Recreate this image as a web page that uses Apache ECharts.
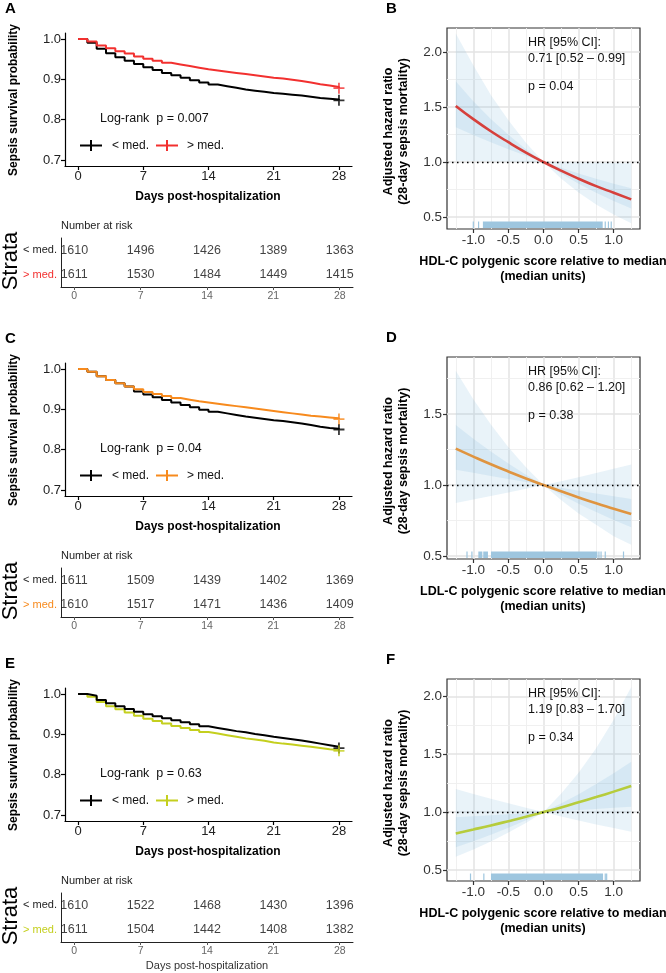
<!DOCTYPE html>
<html><head><meta charset="utf-8">
<script src="https://cdn.jsdelivr.net/npm/echarts@6/dist/echarts.min.js"></script>
<style>html,body{margin:0;padding:0;background:#fff}#c{width:666px;height:973px}</style>
</head><body><div id="c"></div>
<script>
// ---------------- DATA ----------------
const days = [0,1,2,3,4,5,6,7,8,9,10,11,12,13,14,15,16,17,18,19,20,21,22,23,24,25,26,27,28];
const dayTicks = [0,7,14,21,28];
const survTicks = [0.7,0.8,0.9,1.0];
const strata = ['> med.','< med.'];

const kmA_low  = [1,0.991,0.976,0.965,0.955,0.946,0.938,0.930,0.923,0.916,0.910,0.904,0.898,0.892,0.887,0.883,0.879,0.875,0.872,0.869,0.866,0.864,0.862,0.860,0.857,0.854,0.852,0.850,0.848];
const kmA_high = [1,0.994,0.984,0.977,0.970,0.964,0.957,0.951,0.946,0.941,0.937,0.933,0.929,0.925,0.922,0.919,0.916,0.913,0.910,0.907,0.904,0.902,0.899,0.896,0.892,0.888,0.885,0.881,0.878];
const kmC_low  = [1,0.993,0.982,0.973,0.965,0.957,0.944,0.937,0.930,0.923,0.917,0.911,0.905,0.899,0.894,0.890,0.886,0.882,0.879,0.876,0.873,0.871,0.868,0.865,0.861,0.857,0.854,0.852,0.850];
const kmC_high = [1,0.993,0.982,0.973,0.965,0.957,0.950,0.943,0.938,0.933,0.928,0.924,0.920,0.917,0.914,0.911,0.908,0.905,0.902,0.899,0.896,0.893,0.890,0.887,0.884,0.882,0.880,0.878,0.876];
const kmE_low  = [1,0.996,0.985,0.977,0.970,0.963,0.956,0.950,0.945,0.940,0.935,0.930,0.925,0.920,0.916,0.912,0.908,0.905,0.901,0.898,0.894,0.891,0.888,0.885,0.881,0.877,0.873,0.869,0.866];
const kmE_high = [1,0.993,0.980,0.970,0.962,0.954,0.946,0.939,0.933,0.927,0.921,0.916,0.911,0.906,0.902,0.898,0.894,0.890,0.887,0.884,0.880,0.877,0.875,0.872,0.869,0.866,0.863,0.861,0.859];

const riskA_low  = [1610,1496,1426,1389,1363];
const riskA_high = [1611,1530,1484,1449,1415];
const riskC_low  = [1611,1509,1439,1402,1369];
const riskC_high = [1610,1517,1471,1436,1409];
const riskE_low  = [1610,1522,1468,1430,1396];
const riskE_high = [1611,1504,1442,1408,1382];

const scoreX = [-1.25,-1.0,-0.75,-0.5,-0.25,0,0.25,0.5,0.75,1.0,1.25];
const scoreTicks = [-1.0,-0.5,0.0,0.5,1.0];
const scoreMinor = [-1.25,-0.75,-0.25,0.25,0.75,1.25];

const hrB   = [1.51,1.39,1.28,1.18,1.086,1.0,0.921,0.848,0.78,0.72,0.66];
const hiB95 = [2.17,1.88,1.61,1.38,1.175,1.0,0.998,0.996,0.993,0.991,0.989];
const loB95 = [1.011,1.009,1.007,1.005,1.002,1.0,0.85,0.722,0.614,0.521,0.443];
const hiB50 = [1.735,1.553,1.392,1.247,1.117,1.0,0.947,0.896,0.848,0.803,0.760];
const loB50 = [1.316,1.245,1.179,1.116,1.056,1.0,0.896,0.802,0.719,0.644,0.577];
const rugB  = [[-1.0,-1.0],[-0.925,-0.925],[-0.855,0.835],[0.88,0.88],[0.925,0.925],[0.965,0.965]];

const hrD   = [1.256,1.20,1.146,1.095,1.046,1.0,0.956,0.913,0.872,0.834,0.796];
const hiD95 = [1.803,1.603,1.425,1.266,1.125,1.0,1.027,1.055,1.084,1.114,1.145];
const loD95 = [0.874,0.898,0.922,0.947,0.973,1.0,0.895,0.80,0.72,0.64,0.58];
const hiD50 = [1.422,1.325,1.235,1.151,1.073,1.0,0.98,0.96,0.94,0.921,0.902];
const loD50 = [1.108,1.086,1.064,1.042,1.021,1.0,0.932,0.869,0.81,0.754,0.703];
const rugD  = [[-1.09,-1.09],[-1.02,-1.02],[-0.92,-0.88],[-0.85,-0.80],[-0.74,0.76],[0.79,0.79],[0.82,0.82],[0.88,0.88],[1.14,1.14]];

const hrF   = [0.816,0.85,0.885,0.922,0.96,1.0,1.041,1.085,1.13,1.177,1.226];
const hiF95 = [1.20,1.157,1.116,1.076,1.037,1.0,1.158,1.341,1.552,1.797,2.08];
const loF95 = [0.615,0.678,0.747,0.823,0.907,1.0,0.963,0.928,0.894,0.862,0.83];
const hiF50 = [0.955,0.964,0.973,0.982,0.991,1.0,1.075,1.155,1.242,1.335,1.435];
const loF50 = [0.697,0.749,0.805,0.866,0.930,1.0,1.009,1.019,1.028,1.038,1.047];
const rugF  = [[-1.04,-1.04],[-0.85,-0.85],[-0.74,0.84],[0.88,0.88],[0.90,0.90]];

// ---------------- BUILD ----------------
const FF = '"Liberation Sans", Arial, Helvetica, sans-serif';
const PLUS = 'path://M4.2,0h1.6v10h-1.6z M0,4.2h10v1.6h-10z';
const BAND = 'rgba(107,174,214,0.15)';
const RUG = '#9ec6df';
const grids = [], xAxes = [], yAxes = [], series = [], graphics = [];

function txt(x, y, text, font, color, align, rot) {
  const el = {type:'text', x:x, y:y, silent:true, z:100,
    style:{text:text, font:font, fill:color||'#000', textAlign:align||'left', textVerticalAlign:'middle'}};
  if (rot) el.rotation = rot;
  graphics.push(el);
}
function seg(x1, y1, x2, y2, color, w) {
  graphics.push({type:'line', silent:true, z:100, shape:{x1:x1,y1:y1,x2:x2,y2:y2}, style:{stroke:color, lineWidth:w}});
}

function kmPanel(off, low, high, col, pText, rLow, rHigh, letter, blackOnTop, bottomTitle) {
  const gi = grids.length;
  grids.push({left:65, top:33+off, width:287, height:133});
  xAxes.push({type:'value', gridIndex:gi, min:-1.4, max:29.4,
    axisLine:{show:true, onZero:false, lineStyle:{color:'#000', width:1.2}},
    axisTick:{show:true, customValues:dayTicks, length:4, lineStyle:{color:'#000', width:1.2}},
    axisLabel:{show:true, customValues:dayTicks, fontSize:13, color:'#222', margin:4, fontFamily:FF},
    splitLine:{show:false}});
  yAxes.push({type:'value', gridIndex:gi, min:0.685, max:1.015,
    axisLine:{show:true, onZero:false, lineStyle:{color:'#000', width:1.2}},
    axisTick:{show:true, customValues:survTicks, length:4, lineStyle:{color:'#000', width:1.2}},
    axisLabel:{show:true, customValues:survTicks, fontSize:13, color:'#222', margin:4, fontFamily:FF, formatter:v=>v.toFixed(1)},
    splitLine:{show:false}});
  const sLow = {type:'line', xAxisIndex:gi, yAxisIndex:gi, step:'end', symbol:'none', animation:false,
    data:days.map((d,i)=>[d, low[i]]), lineStyle:{color:'#000', width:2}, itemStyle:{color:'#000'}, z: blackOnTop?4:3};
  const sHigh = {type:'line', xAxisIndex:gi, yAxisIndex:gi, step:'end', symbol:'none', animation:false,
    data:days.map((d,i)=>[d, high[i]]), lineStyle:{color:col, width:2}, itemStyle:{color:col}, z: blackOnTop?3:4};
  series.push(sLow, sHigh);
  const n = days.length-1;
  series.push({type:'scatter', xAxisIndex:gi, yAxisIndex:gi, symbol:PLUS, symbolSize:11, animation:false,
    data:[[days[n], low[n]]], itemStyle:{color:'#000'}, z:5});
  series.push({type:'scatter', xAxisIndex:gi, yAxisIndex:gi, symbol:PLUS, symbolSize:11, animation:false,
    data:[[days[n], high[n]]], itemStyle:{color:col}, z:5});

  // risk table
  const ri = grids.length;
  grids.push({left:61, top:238+off, width:292, height:49});
  xAxes.push({type:'value', gridIndex:ri, min:-1.4, max:29.4,
    axisLine:{show:true, onZero:false, lineStyle:{color:'#222', width:1}},
    axisTick:{show:true, customValues:dayTicks, length:3, lineStyle:{color:'#555', width:1}},
    axisLabel:{show:true, customValues:dayTicks, fontSize:10.5, color:'#666', margin:4, fontFamily:FF},
    splitLine:{show:false}});
  yAxes.push({type:'category', gridIndex:ri, data:strata,
    axisLine:{show:true, onZero:false, lineStyle:{color:'#222', width:1}},
    axisTick:{show:false},
    axisLabel:{fontSize:11, margin:4, fontFamily:FF, color:(v)=> v==='< med.' ? '#222' : col},
    splitLine:{show:false}});
  const lab = {show:true, position:'inside', formatter:p=>String(p.value[2]), fontSize:12.5, color:'#111', fontFamily:FF};
  series.push({type:'scatter', xAxisIndex:ri, yAxisIndex:ri, symbolSize:1, animation:false,
    itemStyle:{color:'rgba(0,0,0,0)'}, label:lab, data:dayTicks.map((t,i)=>[t, 1, rLow[i]])});
  series.push({type:'scatter', xAxisIndex:ri, yAxisIndex:ri, symbolSize:1, animation:false,
    itemStyle:{color:'rgba(0,0,0,0)'}, label:lab, data:dayTicks.map((t,i)=>[t, 0, rHigh[i]])});

  // texts
  txt(5, 9+off, letter, 'bold 15px '+FF, '#000', 'left');
  txt(14, 100+off, 'Sepsis survival probability', 'bold 12px '+FF, '#000', 'center', Math.PI/2);
  txt(208, 197+off, 'Days post-hospitalization', 'bold 12px '+FF, '#000', 'center');
  txt(100, 119+off, 'Log-rank  p = ' + pText, '12.5px '+FF, '#111', 'left');
  const ly = 145.5+off;
  seg(80, ly, 102, ly, '#000', 2); seg(91, ly-5.5, 91, ly+5.5, '#000', 2);
  txt(112, ly, '< med.', '12px '+FF, '#111', 'left');
  seg(156, ly, 178, ly, col, 2); seg(167, ly-5.5, 167, ly+5.5, col, 2);
  txt(187, ly, '> med.', '12px '+FF, '#111', 'left');
  txt(61, 226+off, 'Number at risk', '11px '+FF, '#222', 'left');
  txt(11, 261+off, 'Strata', '22px '+FF, '#000', 'center', Math.PI/2);
  if (bottomTitle) txt(207, 966, 'Days post-hospitalization', '11px '+FF, '#333', 'center');
}

function hrPanel(top, height, ymin, ymax, yMajor, yMinor, hr, lo95, hi95, lo50, hi50, rug, col, xTitle, ciText, pText, letter, letterY) {
  const gi = grids.length;
  grids.push({left:447, top:top, width:193, height:height, show:true, borderColor:'#333', borderWidth:1.2, backgroundColor:'#fff'});
  xAxes.push({type:'value', gridIndex:gi, min:-1.375, max:1.375,
    axisLine:{show:false, onZero:false},
    axisTick:{show:true, customValues:scoreTicks, length:4, lineStyle:{color:'#333', width:1.2}},
    axisLabel:{show:true, customValues:scoreTicks, fontSize:13.5, color:'#333', margin:4, fontFamily:FF, formatter:v=>v.toFixed(1)},
    splitLine:{show:false}});
  yAxes.push({type:'value', gridIndex:gi, min:ymin, max:ymax,
    axisLine:{show:false, onZero:false},
    axisTick:{show:true, customValues:yMajor, length:4, lineStyle:{color:'#333', width:1.2}},
    axisLabel:{show:true, customValues:yMajor, fontSize:13.5, color:'#333', margin:5, fontFamily:FF, formatter:v=>v.toFixed(1)},
    splitLine:{show:false}});
  const gl = [];
  scoreTicks.forEach(v=>gl.push({xAxis:v, lineStyle:{color:'#e3e3e3', width:1.5, type:'solid'}}));
  scoreMinor.forEach(v=>gl.push({xAxis:v, lineStyle:{color:'#eeeeee', width:0.9, type:'solid'}}));
  yMajor.forEach(v=>gl.push({yAxis:v, lineStyle:{color:'#e3e3e3', width:1.5, type:'solid'}}));
  yMinor.forEach(v=>gl.push({yAxis:v, lineStyle:{color:'#eeeeee', width:0.9, type:'solid'}}));
  series.push({type:'line', xAxisIndex:gi, yAxisIndex:gi, data:[], symbol:'none', z:1, animation:false,
    markLine:{z:1, silent:true, symbol:['none','none'], label:{show:false}, animation:false, data:gl}});
  function band(lo, hi) {
    return {type:'custom', xAxisIndex:gi, yAxisIndex:gi, z:2, silent:true, animation:false,
      data:[[scoreX[0], lo[0]]],
      renderItem:(params, api) => {
        const pts = [];
        for (let i=0;i<scoreX.length;i++) pts.push(api.coord([scoreX[i], hi[i]]));
        for (let i=scoreX.length-1;i>=0;i--) pts.push(api.coord([scoreX[i], lo[i]]));
        return {type:'polygon', shape:{points:pts}, style:{fill:BAND}};
      }};
  }
  series.push(band(lo95, hi95), band(lo50, hi50));
  series.push({type:'custom', xAxisIndex:gi, yAxisIndex:gi, z:3, silent:true, animation:false,
    data:rug,
    renderItem:(params, api) => {
      const p0 = api.coord([api.value(0), ymin]);
      const p1 = api.coord([api.value(1), ymin]);
      const bottom = params.coordSys.y + params.coordSys.height;
      return {type:'rect', shape:{x:p0[0]-0.6, y:bottom-7.5, width:Math.max(p1[0]-p0[0]+1.2, 1.2), height:6.5}, style:{fill:RUG}};
    }});
  series.push({type:'line', xAxisIndex:gi, yAxisIndex:gi, smooth:true, symbol:'none', z:4, animation:false,
    data:scoreX.map((x,i)=>[x, hr[i]]), lineStyle:{color:col, width:2.6}, itemStyle:{color:col},
    markLine:{z:5, silent:true, symbol:['none','none'], label:{show:false}, animation:false,
      data:[{yAxis:1}], lineStyle:{color:'#000', type:[1.5,3.5], width:1.3}}});
  const bottom = top + height;
  txt(386, letterY, letter, 'bold 15px '+FF, '#000', 'left');
  const cy = top + height/2 + 3;
  txt(389, cy, 'Adjusted hazard ratio', 'bold 12.5px '+FF, '#000', 'center', Math.PI/2);
  txt(404, cy, '(28-day sepsis mortality)', 'bold 12.5px '+FF, '#000', 'center', Math.PI/2);
  txt(543, bottom+33, xTitle, 'bold 12.5px '+FF, '#000', 'center');
  txt(543, bottom+48, '(median units)', 'bold 12.5px '+FF, '#000', 'center');
  txt(528, top+15, 'HR [95% CI]:', '12.5px '+FF, '#111', 'left');
  txt(528, top+31, ciText, '12.5px '+FF, '#111', 'left');
  txt(528, top+58.5, 'p = ' + pText, '12.5px '+FF, '#111', 'left');
}

kmPanel(0,   kmA_low, kmA_high, '#f2302f', '0.007', riskA_low, riskA_high, 'A', false, false);
kmPanel(330, kmC_low, kmC_high, '#f78a1d', '0.04',  riskC_low, riskC_high, 'C', false, false);
kmPanel(655, kmE_low, kmE_high, '#c4cf1e', '0.63',  riskE_low, riskE_high, 'E', true, true);

hrPanel(28, 201, 0.39, 2.22, [0.5,1.0,1.5,2.0], [0.75,1.25,1.75], hrB, loB95, hiB95, loB50, hiB50, rugB, '#d6403c',
  'HDL-C polygenic score relative to median', '0.71 [0.52 \u2013 0.99]', '0.04', 'B', 9);
hrPanel(357, 202, 0.48, 1.90, [0.5,1.0,1.5], [0.75,1.25,1.75], hrD, loD95, hiD95, loD50, hiD50, rugD, '#df9440',
  'LDL-C polygenic score relative to median', '0.86 [0.62 \u2013 1.20]', '0.38', 'D', 338);
hrPanel(679, 202, 0.405, 2.15, [0.5,1.0,1.5,2.0], [0.75,1.25,1.75], hrF, loF95, hiF95, loF50, hiF50, rugF, '#b6cc3c',
  'HDL-C polygenic score relative to median', '1.19 [0.83 \u2013 1.70]', '0.34', 'F', 660);

const chart = echarts.init(document.getElementById('c'), null, {renderer:'canvas'});
chart.setOption({
  animation:false,
  backgroundColor:'#fff',
  textStyle:{fontFamily:FF},
  grid:grids, xAxis:xAxes, yAxis:yAxes, series:series,
  graphic:{elements:graphics}
});
</script></body></html>
